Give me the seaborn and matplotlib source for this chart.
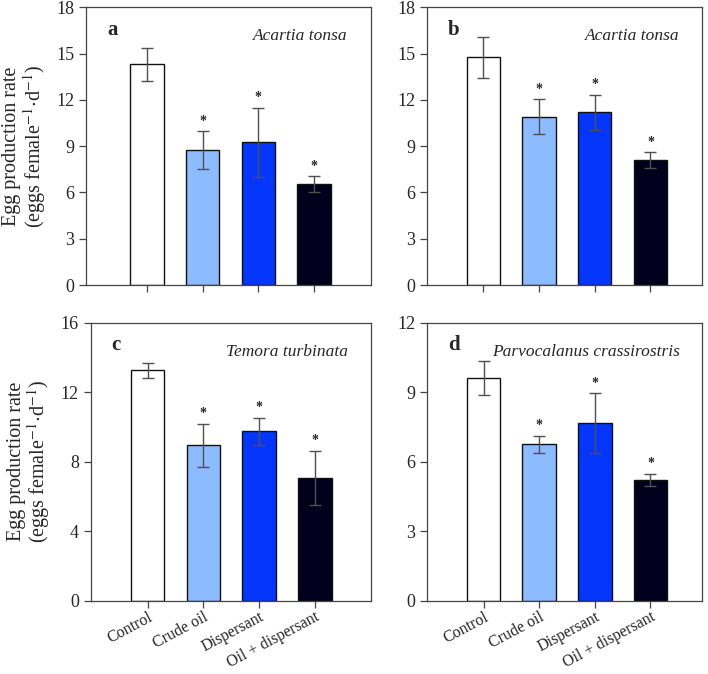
import pandas as pd
import matplotlib
matplotlib.use("Agg")
import matplotlib.pyplot as plt
import seaborn as sns

sns.set_style("ticks")
plt.rcParams['font.family'] = ['Liberation Serif', 'DejaVu Serif']
plt.rcParams['mathtext.fontset'] = 'stix'

# treatments and bar colours
treatments = ["Control", "Crude oil", "Dispersant", "Oil + dispersant"]
bar_colors = ["#ffffff", "#8cbbff", "#0436fb", "#00001c"]

# mean egg production rate and error
mean_a = [14.3, 8.75, 9.25, 6.55]
err_a = [1.05, 1.2, 2.25, 0.52]
mean_b = [14.75, 10.9, 11.2, 8.1]
err_b = [1.34, 1.13, 1.14, 0.5]
mean_c = [13.25, 8.95, 9.75, 7.08]
err_c = [0.45, 1.23, 0.79, 1.56]
mean_d = [9.6, 6.75, 7.67, 5.22]
err_d = [0.73, 0.37, 1.28, 0.27]

panel_letters = ["a", "b", "c", "d"]
species = ["Acartia tonsa", "Acartia tonsa", "Temora turbinata", "Parvocalanus crassirostris"]
y_max = [18, 18, 16, 12]
y_step = [3, 3, 4, 3]

W, H = 708, 674
# axes boxes in pixels: left, top, right, bottom
boxes = [(86, 7.3, 370.7, 285), (427, 7.3, 701.7, 285),
         (90.7, 322.7, 370.7, 600.7), (427.3, 322.7, 701.7, 600.7)]
xlims = [(-1.1, 4.02), (-1.01, 3.92), (-1.02, 4.0), (-1.01, 3.92)]

fig = plt.figure(figsize=(W / 100, H / 100), dpi=100)

means = [mean_a, mean_b, mean_c, mean_d]
errs = [err_a, err_b, err_c, err_d]

for i in range(4):
    l, t, r, b = boxes[i]
    ax = fig.add_axes([l / W, 1 - b / H, (r - l) / W, (b - t) / H])
    df = pd.DataFrame({"Treatment": treatments, "EPR": means[i], "err": errs[i]})
    sns.barplot(data=df, x="Treatment", y="EPR", hue="Treatment", palette=bar_colors,
                width=0.6, edgecolor="#111111", linewidth=1.0, errorbar=None,
                saturation=1, legend=False, ax=ax)
    ax.errorbar(range(len(treatments)), df["EPR"], yerr=df["err"], fmt="none",
                ecolor="#505050", elinewidth=1.0, capsize=4.5, capthick=1.0)
    # significance asterisks on treated groups
    for j in range(1, 4):
        ax.text(j, df["EPR"][j] + df["err"][j] + y_max[i] * 0.012, "*",
                ha="center", va="bottom", fontsize=10, fontweight="bold")

    ax.set_xlim(*xlims[i])
    ax.set_ylim(0, y_max[i])
    ax.set_yticks(range(0, y_max[i] + 1, y_step[i]))
    ax.tick_params(axis="both", direction="out", length=5, width=0.9,
                   color="#444444", labelsize=13)
    ax.tick_params(axis="x", pad=1)
    for sp in ax.spines.values():
        sp.set_visible(True)
        sp.set_color("#444444")
        sp.set_linewidth(0.9)

    ax.text(0.075, 0.92, panel_letters[i], transform=ax.transAxes,
            fontsize=15, fontweight="bold", ha="left", va="center")
    ax.text(0.92, 0.895, species[i], transform=ax.transAxes, fontsize=12.5,
            style="italic", ha="right", va="center")

    ax.set_xlabel("")
    ax.set_xticks(range(4))
    if i >= 2:
        ax.set_xticklabels(treatments, rotation=28, ha="right",
                           rotation_mode="anchor", fontsize=11.5)
    else:
        ax.set_xticklabels([])
    if i % 2 == 0:
        ax.set_ylabel("Egg production rate\n(eggs female$^{-1}$$\\cdot$d$^{-1}$)",
                      fontsize=14.5, linespacing=1.0, labelpad=6)
    else:
        ax.set_ylabel("")

fig.savefig("out.png", dpi=100)
